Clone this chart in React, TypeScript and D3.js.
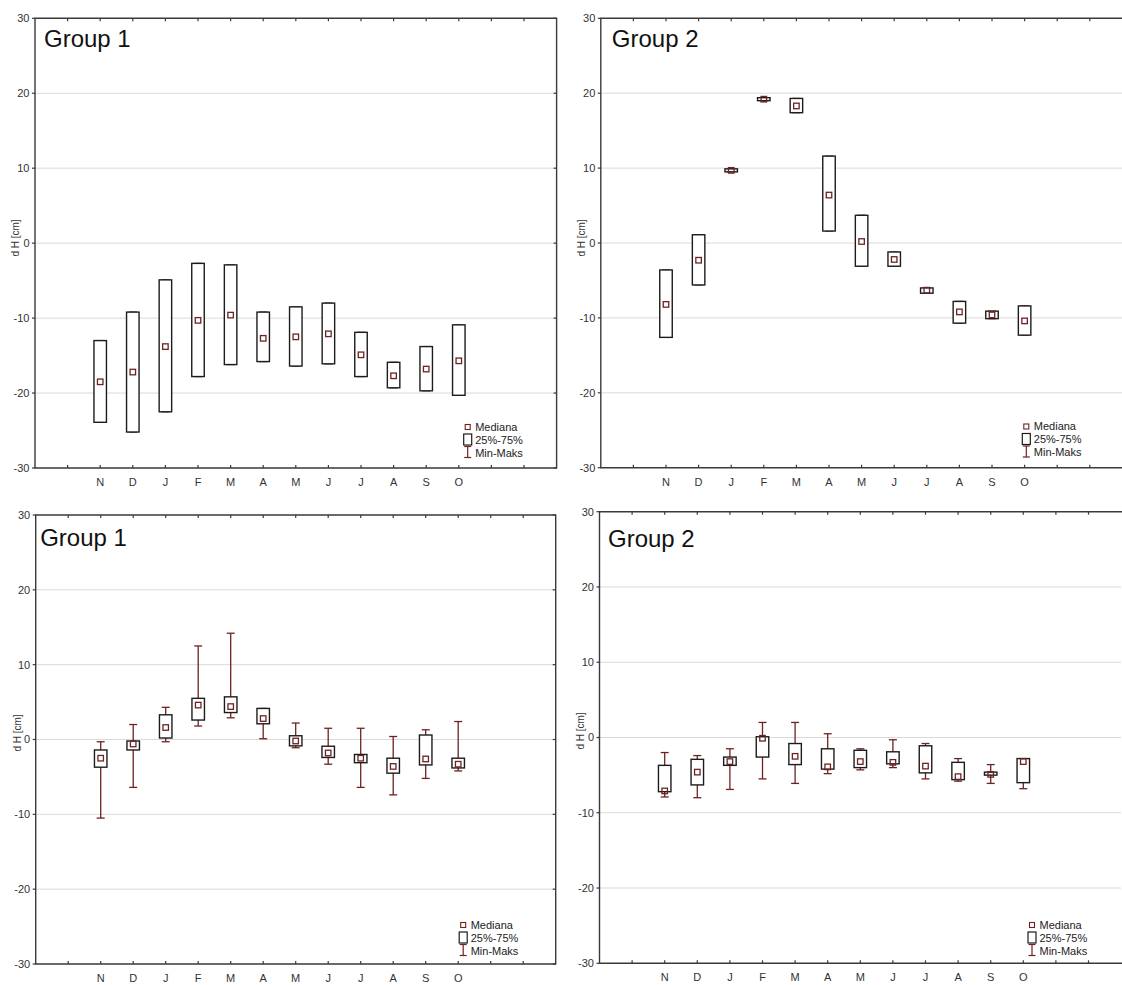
import React from "react";
import * as d3 from "d3";

const months = ["N", "D", "J", "F", "M", "A", "M", "J", "J", "A", "S", "O"];
const yTickValues = [30, 20, 10, 0, -10, -20, -30];
const gridValues = [20, 10, 0, -10, -20];
const legendLabels = ["Mediana", "25%-75%", "Min-Maks"];
const yLabel = "d H [cm]";

// Panel A: top-left (Group 1)
const maxA = [-13.0, -9.2, -4.9, -2.7, -2.9, -9.2, -8.5, -8.0, -11.9, -15.9, -13.8, -10.9];
const q3A = [-13.0, -9.2, -4.9, -2.7, -2.9, -9.2, -8.5, -8.0, -11.9, -15.9, -13.8, -10.9];
const medA = [-18.5, -17.2, -13.8, -10.3, -9.6, -12.7, -12.5, -12.1, -14.9, -17.7, -16.8, -15.7];
const q1A = [-23.9, -25.2, -22.5, -17.8, -16.2, -15.8, -16.4, -16.1, -17.8, -19.3, -19.7, -20.3];
const minA = [-23.9, -25.2, -22.5, -17.8, -16.2, -15.8, -16.4, -16.1, -17.8, -19.3, -19.7, -20.3];

// Panel B: top-right (Group 2)
const maxB = [-3.6, 1.1, 9.9, 19.4, 19.3, 11.6, 3.7, -1.2, -6.0, -7.8, -9.1, -8.4];
const q3B = [-3.6, 1.1, 9.9, 19.4, 19.3, 11.6, 3.7, -1.2, -6.0, -7.8, -9.1, -8.4];
const medB = [-8.2, -2.3, 9.7, 19.2, 18.3, 6.4, 0.2, -2.2, -6.3, -9.2, -9.6, -10.4];
const q1B = [-12.6, -5.6, 9.5, 19.0, 17.4, 1.6, -3.1, -3.1, -6.7, -10.7, -10.1, -12.3];
const minB = [-12.6, -5.6, 9.5, 19.0, 17.4, 1.6, -3.1, -3.1, -6.7, -10.7, -10.1, -12.3];

// Panel C: bottom-left (Group 1)
const maxC = [-0.3, 2.0, 4.3, 12.5, 14.2, 4.15, 2.2, 1.5, 1.5, 0.4, 1.3, 2.4];
const q3C = [-1.4, -0.2, 3.3, 5.5, 5.7, 4.15, 0.5, -0.9, -2.0, -2.5, 0.6, -2.5];
const medC = [-2.5, -0.6, 1.6, 4.6, 4.4, 2.8, -0.2, -1.8, -2.5, -3.6, -2.6, -3.3];
const q1C = [-3.7, -1.4, 0.2, 2.6, 3.6, 2.1, -0.85, -2.4, -3.1, -4.5, -3.4, -3.8];
const minC = [-10.5, -6.4, -0.3, 1.8, 2.9, 0.1, -1.1, -3.3, -6.4, -7.4, -5.2, -4.2];

// Panel D: bottom-right (Group 2)
const maxD = [-2.0, -2.4, -1.5, 2.0, 2.0, 0.5, -1.5, -0.3, -0.8, -2.8, -3.6, -2.8];
const q3D = [-3.7, -2.9, -2.6, 0.1, -0.8, -1.5, -1.7, -1.9, -1.1, -3.3, -4.6, -2.8];
const medD = [-7.1, -4.6, -3.2, -0.1, -2.5, -3.9, -3.2, -3.3, -3.8, -5.2, -4.9, -3.2];
const q1D = [-7.2, -6.3, -3.7, -2.6, -3.6, -4.2, -4.0, -3.5, -4.7, -5.6, -5.0, -6.0];
const minD = [-7.9, -8.0, -6.9, -5.5, -6.1, -4.8, -4.3, -4.0, -5.5, -5.8, -6.1, -6.8];

const FONT = "'Liberation Sans', Arial, Helvetica, sans-serif";
const BOX_STROKE = "#1c1c1c";
const RED = "#6e2222";
const AXIS = "#3a3a3a";

type PanelCfg = {
  title: string;
  left: number;
  top: number;
  bottom: number;
  step: number;
  showRight: boolean;
  titleDx: number;
  titleDy: number;
  legendDx: number;
  legendY: number;
  yLabelX: number;
  yLabelY: number;
  min: number[];
  q1: number[];
  med: number[];
  q3: number[];
  max: number[];
};

const panels: PanelCfg[] = [
  { title: "Group 1", left: 35, top: 18.3, bottom: 468, step: 32.6, showRight: true, titleDx: 9, titleDy: 29, legendDx: 432.7, legendY: 427, yLabelX: 15, yLabelY: 238, min: minA, q1: q1A, med: medA, q3: q3A, max: maxA },
  { title: "Group 2", left: 600.8, top: 18.3, bottom: 467.7, step: 32.6, showRight: false, titleDx: 11, titleDy: 29, legendDx: 425.5, legendY: 426.5, yLabelX: 581, yLabelY: 238, min: minB, q1: q1B, med: medB, q3: q3B, max: maxB },
  { title: "Group 1", left: 35.7, top: 515, bottom: 964, step: 32.5, showRight: true, titleDx: 4.5, titleDy: 31, legendDx: 427.5, legendY: 925, yLabelX: 17, yLabelY: 733, min: minC, q1: q1C, med: medC, q3: q3C, max: maxC },
  { title: "Group 2", left: 599.5, top: 511.7, bottom: 963.3, step: 32.6, showRight: false, titleDx: 8.5, titleDy: 35, legendDx: 432.5, legendY: 925, yLabelX: 580.5, yLabelY: 731, min: minD, q1: q1D, med: medD, q3: q3D, max: maxD },
];

function Panel({ p }: { p: PanelCfg }) {
  const right = p.left + p.step * 16;
  const x = d3.scaleLinear().domain([0, 16]).range([p.left, right]);
  const y = d3.scaleLinear().domain([-30, 30]).range([p.bottom, p.top]);
  const xTicks = d3.range(1, 16);
  const boxW = 12.5;
  const capW = 8;
  const medS = 5.5;
  const lx = p.left + p.legendDx;
  const ly = p.legendY;
  const frame = p.showRight
    ? `M${p.left},${p.top}H${right}V${p.bottom}H${p.left}Z`
    : `M${right + 5},${p.top}H${p.left}V${p.bottom}H${right + 5}`;
  return (
    <g>
      {gridValues.map((v) => (
        <line key={"g" + v} x1={p.left} x2={right} y1={y(v)} y2={y(v)} stroke="#d9d9d9" strokeWidth={1} />
      ))}
      <path d={frame} fill="none" stroke={AXIS} strokeWidth={1.4} />
      {xTicks.map((t) => (
        <g key={"xt" + t}>
          <line x1={x(t)} x2={x(t)} y1={p.top} y2={p.top + 3} stroke={AXIS} strokeWidth={1.2} />
          <line x1={x(t)} x2={x(t)} y1={p.bottom} y2={p.bottom - 3} stroke={AXIS} strokeWidth={1.2} />
        </g>
      ))}
      {yTickValues.map((v) => (
        <g key={"yt" + v}>
          <line x1={p.left - 3} x2={p.left} y1={y(v)} y2={y(v)} stroke={AXIS} strokeWidth={1.2} />
          {p.showRight && (
            <line x1={right} x2={right - 3} y1={y(v)} y2={y(v)} stroke={AXIS} strokeWidth={1.2} />
          )}
          <text x={p.left - 5.5} y={y(v)} dy="0.35em" textAnchor="end" fontSize={11} fontFamily={FONT} fill="#333">
            {v}
          </text>
        </g>
      ))}
      {months.map((m, i) => (
        <text key={"xl" + i} x={x(i + 2)} y={p.bottom + 14} dy="0.35em" textAnchor="middle" fontSize={11} fontFamily={FONT} fill="#333">
          {m}
        </text>
      ))}
      <text
        transform={`translate(${p.yLabelX},${p.yLabelY}) rotate(-90)`}
        textAnchor="middle"
        dy="0.35em"
        fontSize={10}
        fontFamily={FONT}
        fill="#333"
      >
        {yLabel}
      </text>
      <text x={p.left + p.titleDx} y={p.top + p.titleDy} fontSize={24} fontFamily={FONT} fill="#111">
        {p.title}
      </text>
      {months.map((m, i) => {
        const cx = x(i + 2);
        return (
          <g key={"b" + i}>
            <line x1={cx} x2={cx} y1={y(p.max[i])} y2={y(p.min[i])} stroke={RED} strokeWidth={1.3} />
            <line x1={cx - capW / 2} x2={cx + capW / 2} y1={y(p.max[i])} y2={y(p.max[i])} stroke={RED} strokeWidth={1.3} />
            <line x1={cx - capW / 2} x2={cx + capW / 2} y1={y(p.min[i])} y2={y(p.min[i])} stroke={RED} strokeWidth={1.3} />
            <rect
              x={cx - boxW / 2}
              y={y(p.q3[i])}
              width={boxW}
              height={Math.max(0.5, y(p.q1[i]) - y(p.q3[i]))}
              fill="#fff"
              stroke={BOX_STROKE}
              strokeWidth={1.4}
            />
            <rect x={cx - medS / 2} y={y(p.med[i]) - medS / 2} width={medS} height={medS} fill="none" stroke={RED} strokeWidth={1.3} />
          </g>
        );
      })}
      <g fontFamily={FONT} fontSize={11} fill="#222">
        <rect x={lx - 2.5} y={ly - 2.5} width={5} height={5} fill="none" stroke={RED} strokeWidth={1.1} />
        <text x={lx + 7.5} y={ly} dy="0.35em">{legendLabels[0]}</text>
        <rect x={lx - 4} y={ly + 7} width={8} height={11} fill="none" stroke={BOX_STROKE} strokeWidth={1.2} />
        <text x={lx + 7.5} y={ly + 13} dy="0.35em">{legendLabels[1]}</text>
        <line x1={lx} x2={lx} y1={ly + 19.5} y2={ly + 30.5} stroke={RED} strokeWidth={1.2} />
        <line x1={lx - 3.5} x2={lx + 3.5} y1={ly + 19.5} y2={ly + 19.5} stroke={RED} strokeWidth={1.2} />
        <line x1={lx - 3.5} x2={lx + 3.5} y1={ly + 30.5} y2={ly + 30.5} stroke={RED} strokeWidth={1.2} />
        <text x={lx + 7.5} y={ly + 26} dy="0.35em">{legendLabels[2]}</text>
      </g>
    </g>
  );
}

export default function App() {
  return (
    <svg
      width={1122}
      height={985}
      viewBox="0 0 1122 985"
      style={{ position: "absolute", left: 0, top: 0, background: "#fff", overflow: "hidden" }}
    >
      <rect x={0} y={0} width={1122} height={985} fill="#fff" />
      {panels.map((p, i) => (
        <Panel key={i} p={p} />
      ))}
    </svg>
  );
}
